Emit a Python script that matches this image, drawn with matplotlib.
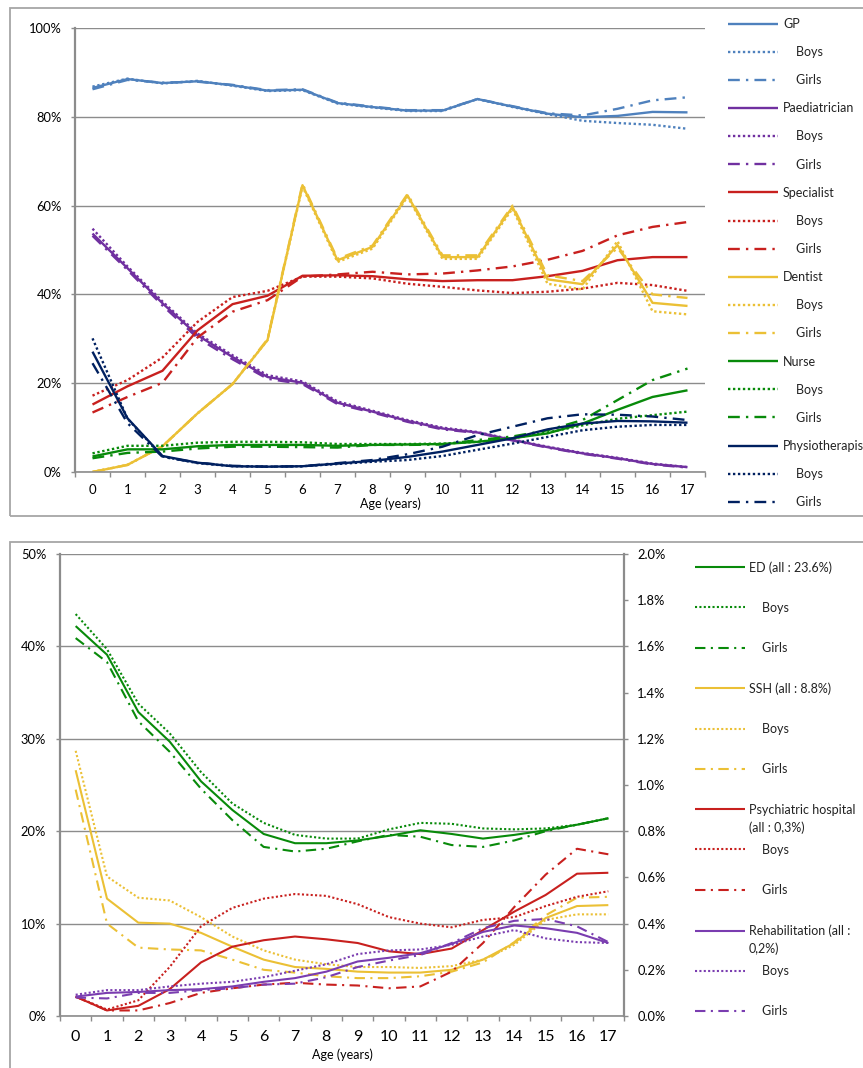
import matplotlib
matplotlib.use("Agg")
import matplotlib.pyplot as plt
from matplotlib.patches import Rectangle
from matplotlib.ticker import FuncFormatter
import numpy as np

plt.rcParams["font.family"] = ["Lato", "DejaVu Sans"]
plt.rcParams["text.color"] = "#222222"

ages = list(range(18))

# share of children seeing each provider, % by age
gp = [86.5, 88.5, 87.6, 88.0, 87.1, 85.9, 86.1, 83.1, 82.2, 81.4, 81.4, 84.0, 82.3, 80.7, 79.9, 80.2, 81.1, 81.0]
gp_boys = [86.8, 88.6, 87.5, 88.1, 87.0, 85.8, 86.0, 83.0, 82.1, 81.3, 81.3, 84.0, 82.2, 80.6, 79.1, 78.6, 78.2, 77.3]
gp_girls = [86.2, 88.3, 87.7, 87.9, 87.2, 86.0, 86.2, 83.2, 82.3, 81.5, 81.5, 84.0, 82.4, 80.8, 80.3, 81.8, 83.7, 84.4]

paed = [53.7, 45.9, 38.0, 30.8, 25.9, 21.4, 20.1, 15.6, 13.6, 11.5, 9.8, 8.9, 7.2, 5.6, 4.2, 3.1, 1.8, 1.1]
paed_boys = [54.8, 46.3, 38.4, 31.2, 26.3, 21.8, 20.4, 15.9, 13.8, 11.7, 10.0, 9.0, 7.3, 5.7, 4.3, 3.2, 1.9, 1.1]
paed_girls = [53.2, 45.5, 37.5, 30.2, 25.4, 21.0, 19.8, 15.3, 13.4, 11.3, 9.6, 8.8, 7.1, 5.5, 4.1, 3.0, 1.7, 1.0]

spec = [15.2, 19.3, 22.8, 31.9, 37.8, 39.7, 44.2, 44.3, 44.1, 43.4, 43.0, 43.2, 43.2, 44.1, 45.3, 47.7, 48.4, 48.4]
spec_boys = [17.2, 20.7, 25.8, 33.8, 39.4, 40.8, 44.0, 44.0, 43.6, 42.4, 41.7, 40.9, 40.3, 40.6, 41.3, 42.6, 42.1, 40.8]
spec_girls = [13.4, 16.9, 20.1, 30.3, 36.1, 38.7, 44.0, 44.5, 45.1, 44.5, 44.7, 45.4, 46.3, 47.8, 49.8, 53.3, 55.2, 56.3]

dentist = [0.0, 1.6, 5.8, 13.2, 19.8, 29.7, 64.6, 47.7, 50.7, 62.3, 48.4, 48.4, 59.7, 43.4, 42.3, 51.1, 38.1, 37.4]
dentist_boys = [0.0, 1.6, 5.8, 13.2, 19.8, 29.7, 64.3, 47.3, 50.3, 62.0, 48.0, 48.0, 59.3, 42.4, 41.1, 52.0, 36.2, 35.5]
dentist_girls = [0.0, 1.6, 5.8, 13.2, 19.8, 29.9, 64.9, 48.0, 51.0, 62.6, 48.8, 48.8, 60.0, 44.3, 43.0, 50.5, 40.0, 39.2]

nurse = [3.5, 5.1, 5.1, 5.8, 6.1, 6.1, 6.1, 5.9, 6.1, 6.2, 6.3, 6.8, 7.6, 8.7, 10.9, 14.0, 16.9, 18.4]
nurse_boys = [4.2, 5.9, 5.9, 6.6, 6.8, 6.8, 6.7, 6.3, 6.3, 6.3, 6.4, 6.8, 7.6, 8.9, 10.5, 12.0, 12.8, 13.6]
nurse_girls = [3.1, 4.3, 4.6, 5.3, 5.7, 5.7, 5.6, 5.5, 6.1, 6.1, 6.2, 7.2, 8.0, 9.4, 11.7, 16.2, 20.7, 23.3]

physio = [27.1, 12.1, 3.6, 2.1, 1.3, 1.2, 1.3, 1.9, 2.5, 3.4, 4.6, 6.1, 7.6, 9.6, 10.9, 11.5, 11.4, 11.1]
physio_boys = [30.1, 12.0, 3.5, 2.0, 1.3, 1.2, 1.3, 1.8, 2.3, 2.7, 3.6, 5.0, 6.4, 7.9, 9.4, 10.2, 10.6, 10.6]
physio_girls = [24.5, 11.0, 3.4, 2.1, 1.4, 1.2, 1.3, 2.0, 2.7, 4.0, 5.7, 8.3, 10.2, 12.1, 13.0, 12.9, 12.5, 11.7]

# hospital use, % by age (ED and SSH on the left axis)
ed = [42.2, 39.1, 32.9, 29.7, 25.4, 22.3, 19.7, 18.7, 18.7, 19.0, 19.5, 20.1, 19.7, 19.2, 19.6, 20.1, 20.7, 21.4]
ed_boys = [43.5, 39.7, 33.8, 30.6, 26.4, 23.0, 20.9, 19.6, 19.2, 19.2, 20.2, 20.9, 20.8, 20.3, 20.2, 20.3, 20.7, 21.4]
ed_girls = [40.9, 38.3, 31.9, 28.6, 24.6, 21.2, 18.3, 17.8, 18.1, 18.9, 19.6, 19.4, 18.5, 18.3, 19.0, 20.0, 20.7, 21.4]

ssh = [26.6, 12.7, 10.1, 10.0, 9.0, 7.5, 6.1, 5.3, 5.1, 4.8, 4.7, 4.7, 5.0, 6.1, 7.9, 10.6, 11.9, 12.0]
ssh_boys = [28.7, 15.1, 12.8, 12.5, 10.7, 8.6, 7.1, 6.1, 5.6, 5.3, 5.3, 5.2, 5.4, 6.1, 7.7, 10.4, 11.0, 11.0]
ssh_girls = [24.5, 10.0, 7.4, 7.2, 7.1, 6.1, 5.0, 4.7, 4.3, 4.1, 4.1, 4.3, 4.8, 5.8, 8.0, 10.9, 12.8, 12.9]

# psychiatric hospital and rehabilitation on the right axis
psych = [0.084, 0.024, 0.044, 0.116, 0.232, 0.300, 0.328, 0.344, 0.332, 0.316, 0.280, 0.268, 0.292, 0.372, 0.452, 0.524, 0.616, 0.620]
psych_boys = [0.084, 0.028, 0.068, 0.212, 0.388, 0.468, 0.508, 0.528, 0.520, 0.484, 0.428, 0.400, 0.384, 0.416, 0.428, 0.476, 0.516, 0.540]
psych_girls = [0.084, 0.024, 0.024, 0.056, 0.100, 0.120, 0.136, 0.144, 0.136, 0.132, 0.120, 0.128, 0.192, 0.316, 0.472, 0.612, 0.724, 0.700]

rehab = [0.084, 0.100, 0.104, 0.112, 0.116, 0.128, 0.148, 0.164, 0.192, 0.236, 0.252, 0.272, 0.312, 0.364, 0.392, 0.380, 0.360, 0.316]
rehab_boys = [0.092, 0.112, 0.112, 0.128, 0.140, 0.148, 0.168, 0.196, 0.224, 0.268, 0.284, 0.288, 0.308, 0.344, 0.372, 0.336, 0.320, 0.316]
rehab_girls = [0.080, 0.076, 0.100, 0.100, 0.112, 0.120, 0.136, 0.140, 0.168, 0.212, 0.240, 0.264, 0.316, 0.380, 0.412, 0.420, 0.388, 0.320]

W, H = 863, 1068
GRAY = "#8c8c8c"
DOT = (0, (1, 1.1))
DASHDOT = (0, (5, 2.6, 1, 2.6))

fig = plt.figure(figsize=(W / 100, H / 100), dpi=100)

# panel frames
fig.patches.append(Rectangle((10 / W, 1 - 516 / H), 2, (516 - 8) / H, transform=fig.transFigure,
                             fill=False, edgecolor="#a6a6a6", lw=1.3))
fig.patches.append(Rectangle((10 / W, -0.2), 2, 1 - 542 / H + 0.2, transform=fig.transFigure,
                             fill=False, edgecolor="#a6a6a6", lw=1.3))


def style_axis(ax, xfont, ypad):
    ax.set_xlim(-0.5, 17.5)
    ax.set_xticks(ages)
    ax.set_xticklabels([str(a) for a in ages], fontsize=xfont)
    ax.set_xticks(np.arange(-0.5, 18, 1), minor=True)
    ax.tick_params(axis="x", which="major", length=0)
    ax.tick_params(axis="x", which="minor", length=3.6, width=1, color=GRAY)
    ax.tick_params(axis="y", length=3, width=1, color=GRAY, pad=ypad)
    ax.grid(axis="y", color=GRAY, lw=1)
    ax.set_axisbelow(True)
    for side in ["top", "right"]:
        ax.spines[side].set_visible(False)
    for side in ["left", "bottom"]:
        ax.spines[side].set_color(GRAY)
    ax.spines["left"].set_linewidth(1.6)
    ax.spines["bottom"].set_linewidth(1.2)


def add_group(ax, values, boys, girls, color, name, lw, handles, labels):
    h1, = ax.plot(ages, values, color=color, lw=lw, solid_capstyle="butt")
    h2, = ax.plot(ages, boys, color=color, lw=lw, linestyle=DOT)
    h3, = ax.plot(ages, girls, color=color, lw=lw, linestyle=DASHDOT)
    handles += [h1, h2, h3]
    labels += [name, "    Boys", "    Girls"]


# top panel: care providers
ax1 = fig.add_axes([75 / W, 1 - 472 / H, (705 - 75) / W, (472 - 28) / H])
style_axis(ax1, 9.5, 6.5)
ax1.set_ylim(0, 100)
ax1.set_yticks(range(0, 101, 20))
ax1.yaxis.set_major_formatter(FuncFormatter(lambda v, p: f"{v:.0f}%"))
ax1.tick_params(axis="y", labelsize=9.3)
ax1.tick_params(axis="x", which="major", pad=8.5)
ax1.set_xlabel("Age (years)", fontsize=9, labelpad=1)

top_handles, top_labels = [], []
for vals, b, g, c, n in [
    (gp, gp_boys, gp_girls, "#4F81BD", "GP"),
    (paed, paed_boys, paed_girls, "#7030A0", "Paediatrician"),
    (spec, spec_boys, spec_girls, "#C8201E", "Specialist"),
    (dentist, dentist_boys, dentist_girls, "#EBC035", "Dentist"),
    (nurse, nurse_boys, nurse_girls, "#088A0A", "Nurse"),
    (physio, physio_boys, physio_girls, "#002060", "Physiotherapist"),
]:
    add_group(ax1, vals, b, g, c, n, 1.7, top_handles, top_labels)

fig.legend(top_handles, top_labels, loc="upper left", bbox_to_anchor=(728 / W, 1 - 18 / H),
           frameon=False, fontsize=9, handlelength=4.0, handletextpad=0.4,
           labelspacing=1.29, borderpad=0, borderaxespad=0)

# bottom panel: hospital services
ax2 = fig.add_axes([60 / W, 1 - 1016 / H, (624 - 60) / W, (1016 - 554) / H])
style_axis(ax2, 11.5, 7)
ax2.set_ylim(0, 50)
ax2.set_yticks(range(0, 51, 10))
ax2.yaxis.set_major_formatter(FuncFormatter(lambda v, p: f"{v:.0f}%"))
ax2.tick_params(axis="y", labelsize=9.3)
ax2.tick_params(axis="x", which="major", pad=10)
ax2.set_xlabel("Age (years)", fontsize=9, labelpad=3)

ax3 = ax2.twinx()
ax3.set_ylim(0, 2.0)
ax3.set_yticks(np.arange(0, 2.01, 0.2))
ax3.yaxis.set_major_formatter(FuncFormatter(lambda v, p: f"{v:.1f}%"))
ax3.tick_params(axis="y", length=3, width=1, color=GRAY, labelsize=9.3, pad=6.5)
for side in ["top", "left", "bottom"]:
    ax3.spines[side].set_visible(False)
ax3.spines["right"].set_color(GRAY)
ax3.spines["right"].set_linewidth(1.6)

bot_handles, bot_labels = [], []
add_group(ax2, ed, ed_boys, ed_girls, "#088A0A", "ED (all : 23.6%)", 1.5, bot_handles, bot_labels)
add_group(ax2, ssh, ssh_boys, ssh_girls, "#EBC035", "SSH (all : 8.8%)", 1.5, bot_handles, bot_labels)
add_group(ax3, psych, psych_boys, psych_girls, "#C8201E", "Psychiatric hospital", 1.5, bot_handles, bot_labels)
add_group(ax3, rehab, rehab_boys, rehab_girls, "#7A3DB0", "Rehabilitation (all :", 1.5, bot_handles, bot_labels)

leg2 = fig.legend(bot_handles, bot_labels, loc="upper left", bbox_to_anchor=(695 / W, 1 - 561 / H),
                  frameon=False, fontsize=9, handlelength=4.0, handletextpad=0.3,
                  labelspacing=2.26, borderpad=0, borderaxespad=0)

# second lines of the two wrapped legend labels
fig.canvas.draw()
wrapped = {"Psychiatric hospital": "(all : 0,3%)", "Rehabilitation (all :": "0,2%)"}
for txt in leg2.get_texts():
    if txt.get_text() in wrapped:
        bb = txt.get_window_extent()
        fig.text(bb.x0 / W, (bb.y0 - 18) / H, wrapped[txt.get_text()], fontsize=9,
                 ha="left", va="bottom")

fig.savefig("out.png", dpi=100)
